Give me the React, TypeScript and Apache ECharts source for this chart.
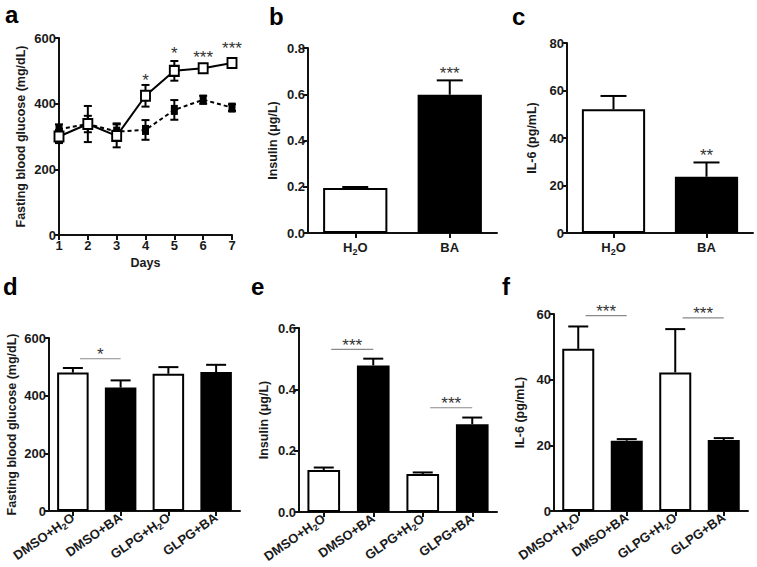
import React, { useEffect, useRef } from "react";
import * as echarts from "echarts";

// ---------- data ----------
const days = [1, 2, 3, 4, 5, 6, 7];
const glucoseH2O = [300, 338, 302, 424, 500, 508, 524];
const glucoseH2OErr = [20, 55, 35, 33, 30, 8, 8];
const glucoseBA = [322, 338, 315, 320, 381, 412, 388];
const glucoseBAErr = [15, 25, 25, 30, 30, 12, 10];
const sigADays = [4, 5, 6, 7];
const sigALevel = [483, 564, 554, 580];
const sigALabel = ["*", "*", "***", "***"];

const groupsTop = ["H2O", "BA"];
const insulinTop = [0.195, 0.598];
const insulinTopErr = [0.004, 0.062];
const insulinTopSig = ["", "***"];
const insulinTopSigLevel = [0, 0.706];
const il6Top = [52.1, 23.7];
const il6TopErr = [5.6, 6.0];
const il6TopSig = ["", "**"];
const il6TopSigLevel = [0, 34.2];

const groupsBottom = ["DMSO+H2O", "DMSO+BA", "GLPG+H2O", "GLPG+BA"];
const glucoseD = [480, 428, 476, 482];
const glucoseDErr = [16, 25, 23, 25];
const insulinE = [0.137, 0.478, 0.124, 0.286];
const insulinEErr = [0.008, 0.022, 0.005, 0.022];
const il6F = [49.4, 21.4, 42.2, 21.6];
const il6FErr = [6.8, 0.5, 13.2, 0.6];

// significance brackets: [from index, to index]
const bracketsD = [[0, 1]];
const bracketsDLevel = [528];
const bracketsDLabel = ["*"];
const bracketsE = [[0, 1], [2, 3]];
const bracketsELevel = [0.53, 0.34];
const bracketsELabel = ["***", "***"];
const bracketsF = [[0, 1], [2, 3]];
const bracketsFLevel = [59.5, 58.8];
const bracketsFLabel = ["***", "***"];

const yTicksA = { min: 0, max: 600, interval: 200 };
const yTicksB = { min: 0, max: 0.8, interval: 0.2 };
const yTicksC = { min: 0, max: 80, interval: 20 };
const yTicksD = { min: 0, max: 600, interval: 200 };
const yTicksE = { min: 0, max: 0.6, interval: 0.2 };
const yTicksF = { min: 0, max: 60, interval: 20 };

// ---------- styles ----------
const FONT = '"Liberation Sans", Arial, Helvetica, sans-serif';
const TXT = "#1a1a1a";
const AX = "#111";
const TICK_FS = 13;
const NAME_FS = 12.5;

const axisLine = { show: true, lineStyle: { color: AX, width: 2 } };
const axisTick = { show: true, length: 5, lineStyle: { color: AX, width: 2 } };

const makeRich = (fs: number) => ({
  m: { fontFamily: FONT, fontWeight: "bold", fontSize: fs, color: TXT, lineHeight: fs + 4 },
  s: { fontFamily: FONT, fontWeight: "bold", fontSize: fs - 4, color: TXT, lineHeight: fs - 4, verticalAlign: "bottom" },
});
const catFormatter = (v: string) =>
  v.includes("H2O") ? `{m|${v.replace("H2O", "H")}}{s|2}{m|O}` : `{m|${v}}`;

function yAxis(gridIndex: number, ticks: any, name: string, nameGap: number, decimals: number) {
  return {
    type: "value",
    gridIndex,
    min: ticks.min,
    max: ticks.max,
    interval: ticks.interval,
    name,
    nameLocation: "middle",
    nameGap,
    nameTextStyle: { fontFamily: FONT, fontWeight: "bold", fontSize: NAME_FS, color: TXT },
    axisLine,
    axisTick,
    splitLine: { show: false },
    axisLabel: {
      fontFamily: FONT,
      fontWeight: "bold",
      fontSize: TICK_FS,
      color: TXT,
      margin: 3,
      formatter: (v: number) => v.toFixed(decimals),
    },
  };
}

function catAxis(gridIndex: number, cats: string[], rotate: number) {
  return {
    type: "category",
    gridIndex,
    data: cats,
    axisLine,
    axisTick: { ...axisTick, alignWithLabel: true },
    axisLabel: {
      rotate,
      margin: rotate ? 5 : 6,
      interval: 0,
      formatter: catFormatter,
      rich: makeRich(13),
    },
  };
}

function barSeries(idx: number, values: number[], width: string) {
  return {
    type: "bar",
    xAxisIndex: idx,
    yAxisIndex: idx,
    barWidth: width,
    data: values.map((v, i) => ({
      value: v,
      itemStyle: { color: i % 2 === 0 ? "#fff" : "#000", borderColor: "#000", borderWidth: 2 },
    })),
    z: 2,
  };
}

function errSeries(idx: number, xs: number[], values: number[], errs: number[], capHalf: number, both: boolean) {
  return {
    type: "custom",
    xAxisIndex: idx,
    yAxisIndex: idx,
    z: 5,
    data: values.map((v, i) => [xs[i], v, errs[i]]),
    renderItem: (params: any, api: any) => {
      const x = api.value(0);
      const y = api.value(1);
      const e = api.value(2);
      const p = api.coord([x, y]);
      const hi = api.coord([x, y + e]);
      const st = { stroke: "#000", lineWidth: 2 };
      const children: any[] = [
        { type: "line", shape: { x1: p[0], y1: p[1], x2: p[0], y2: hi[1] }, style: st },
        { type: "line", shape: { x1: p[0] - capHalf, y1: hi[1], x2: p[0] + capHalf, y2: hi[1] }, style: st },
      ];
      if (both) {
        const lo = api.coord([x, y - e]);
        children.push({ type: "line", shape: { x1: p[0], y1: p[1], x2: p[0], y2: lo[1] }, style: st });
        children.push({ type: "line", shape: { x1: p[0] - capHalf, y1: lo[1], x2: p[0] + capHalf, y2: lo[1] }, style: st });
      }
      return { type: "group", children };
    },
  };
}

const starStyle = (text: string) => ({
  text,
  fontFamily: FONT,
  fontSize: 17,
  fill: "#333",
  align: "center",
  verticalAlign: "middle",
});

function starSeries(idx: number, xs: number[], levels: number[], labels: string[]) {
  return {
    type: "custom",
    xAxisIndex: idx,
    yAxisIndex: idx,
    z: 6,
    data: levels.map((v, i) => [xs[i], v]),
    renderItem: (params: any, api: any) => {
      const label = labels[params.dataIndex];
      if (!label) return { type: "group", children: [] };
      const p = api.coord([api.value(0), api.value(1)]);
      return { type: "text", x: p[0], y: p[1] + 4, style: starStyle(label) };
    },
  };
}

function bracketSeries(idx: number, pairs: number[][], levels: number[], labels: string[]) {
  return {
    type: "custom",
    xAxisIndex: idx,
    yAxisIndex: idx,
    z: 6,
    data: pairs.map((pr, i) => [pr[0], pr[1], levels[i]]),
    renderItem: (params: any, api: any) => {
      const band = api.size([1, 0])[0];
      const a = api.coord([api.value(0), api.value(2)]);
      const b = api.coord([api.value(1), api.value(2)]);
      const x1 = a[0] + band * 0.15;
      const x2 = b[0];
      return {
        type: "group",
        children: [
          { type: "line", shape: { x1, y1: a[1], x2, y2: a[1] }, style: { stroke: "#8a8a8a", lineWidth: 1.2 } },
          { type: "text", x: (x1 + x2) / 2, y: a[1] - 8 + 4, style: starStyle(labels[params.dataIndex]) },
        ],
      };
    },
  };
}

const idxTop = groupsTop.map((_, i) => i);
const idxBottom = groupsBottom.map((_, i) => i);

const letters = [
  { t: "a", x: 5, y: 2 },
  { t: "b", x: 269, y: 4 },
  { t: "c", x: 512, y: 4 },
  { t: "d", x: 3, y: 274 },
  { t: "e", x: 251, y: 274 },
  { t: "f", x: 502, y: 274 },
];

export default function App() {
  const ref = useRef<HTMLDivElement>(null);
  useEffect(() => {
    if (!ref.current) return;
    const chart = echarts.init(ref.current, undefined, { renderer: "svg" });
    const option: any = {
      animation: false,
      backgroundColor: "#fff",
      textStyle: { fontFamily: FONT },
      grid: [
        { left: 59, top: 38, width: 173, height: 197 },
        { left: 308, top: 48, width: 189, height: 185 },
        { left: 567, top: 43, width: 186, height: 190 },
        { left: 49, top: 338, width: 191, height: 173 },
        { left: 299, top: 328, width: 198, height: 184 },
        { left: 554, top: 314, width: 194, height: 197 },
      ],
      xAxis: [
        {
          type: "value",
          gridIndex: 0,
          min: days[0],
          max: days[days.length - 1],
          interval: 1,
          name: "Days",
          nameLocation: "middle",
          nameGap: 21,
          nameTextStyle: { fontFamily: FONT, fontWeight: "bold", fontSize: NAME_FS, color: TXT },
          axisLine,
          axisTick,
          splitLine: { show: false },
          axisLabel: { fontFamily: FONT, fontWeight: "bold", fontSize: TICK_FS, color: TXT, margin: 4 },
        },
        catAxis(1, groupsTop, 0),
        catAxis(2, groupsTop, 0),
        catAxis(3, groupsBottom, 35),
        catAxis(4, groupsBottom, 35),
        catAxis(5, groupsBottom, 35),
      ],
      yAxis: [
        yAxis(0, yTicksA, "Fasting blood glucose (mg/dL)", 32, 0),
        yAxis(1, yTicksB, "Insulin (μg/L)", 29, 1),
        yAxis(2, yTicksC, "IL-6 (pg/mL)", 29, 0),
        yAxis(3, yTicksD, "Fasting blood glucose (mg/dL)", 31, 0),
        yAxis(4, yTicksE, "Insulin (μg/L)", 29, 1),
        yAxis(5, yTicksF, "IL-6 (pg/mL)", 28, 0),
      ],
      series: [
        // panel a
        {
          type: "line",
          xAxisIndex: 0,
          yAxisIndex: 0,
          data: days.map((d, i) => [d, glucoseBA[i]]),
          symbol: "rect",
          symbolSize: [7, 10],
          itemStyle: { color: "#000" },
          lineStyle: { color: "#000", width: 2, type: [4, 3] },
          z: 3,
        },
        errSeries(0, days, glucoseBA, glucoseBAErr, 4, true),
        {
          type: "line",
          xAxisIndex: 0,
          yAxisIndex: 0,
          data: days.map((d, i) => [d, glucoseH2O[i]]),
          symbol: "rect",
          symbolSize: [9, 10],
          showAllSymbol: true,
          itemStyle: { color: "#fff", borderColor: "#000", borderWidth: 2 },
          lineStyle: { color: "#000", width: 2 },
          z: 7,
        },
        errSeries(0, days, glucoseH2O, glucoseH2OErr, 4, true),
        starSeries(0, sigADays, sigALevel, sigALabel),
        // panel b
        barSeries(1, insulinTop, "68%"),
        errSeries(1, idxTop, insulinTop, insulinTopErr, 13, false),
        starSeries(1, idxTop, insulinTopSigLevel, insulinTopSig),
        // panel c
        barSeries(2, il6Top, "68%"),
        errSeries(2, idxTop, il6Top, il6TopErr, 13, false),
        starSeries(2, idxTop, il6TopSigLevel, il6TopSig),
        // panel d
        barSeries(3, glucoseD, "66%"),
        errSeries(3, idxBottom, glucoseD, glucoseDErr, 10, false),
        bracketSeries(3, bracketsD, bracketsDLevel, bracketsDLabel),
        // panel e
        barSeries(4, insulinE, "66%"),
        errSeries(4, idxBottom, insulinE, insulinEErr, 10, false),
        bracketSeries(4, bracketsE, bracketsELevel, bracketsELabel),
        // panel f
        barSeries(5, il6F, "66%"),
        errSeries(5, idxBottom, il6F, il6FErr, 10, false),
        bracketSeries(5, bracketsF, bracketsFLevel, bracketsFLabel),
      ],
      graphic: letters.map((l) => ({
        type: "text",
        left: l.x,
        top: l.y,
        style: { text: l.t, fontFamily: FONT, fontWeight: "bold", fontSize: 24, fill: "#000" },
      })),
    };
    chart.setOption(option);
    return () => chart.dispose();
  }, []);
  return (
    <div
      ref={ref}
      style={{ position: "absolute", left: 0, top: 0, width: 757, height: 567, background: "#fff" }}
    />
  );
}
